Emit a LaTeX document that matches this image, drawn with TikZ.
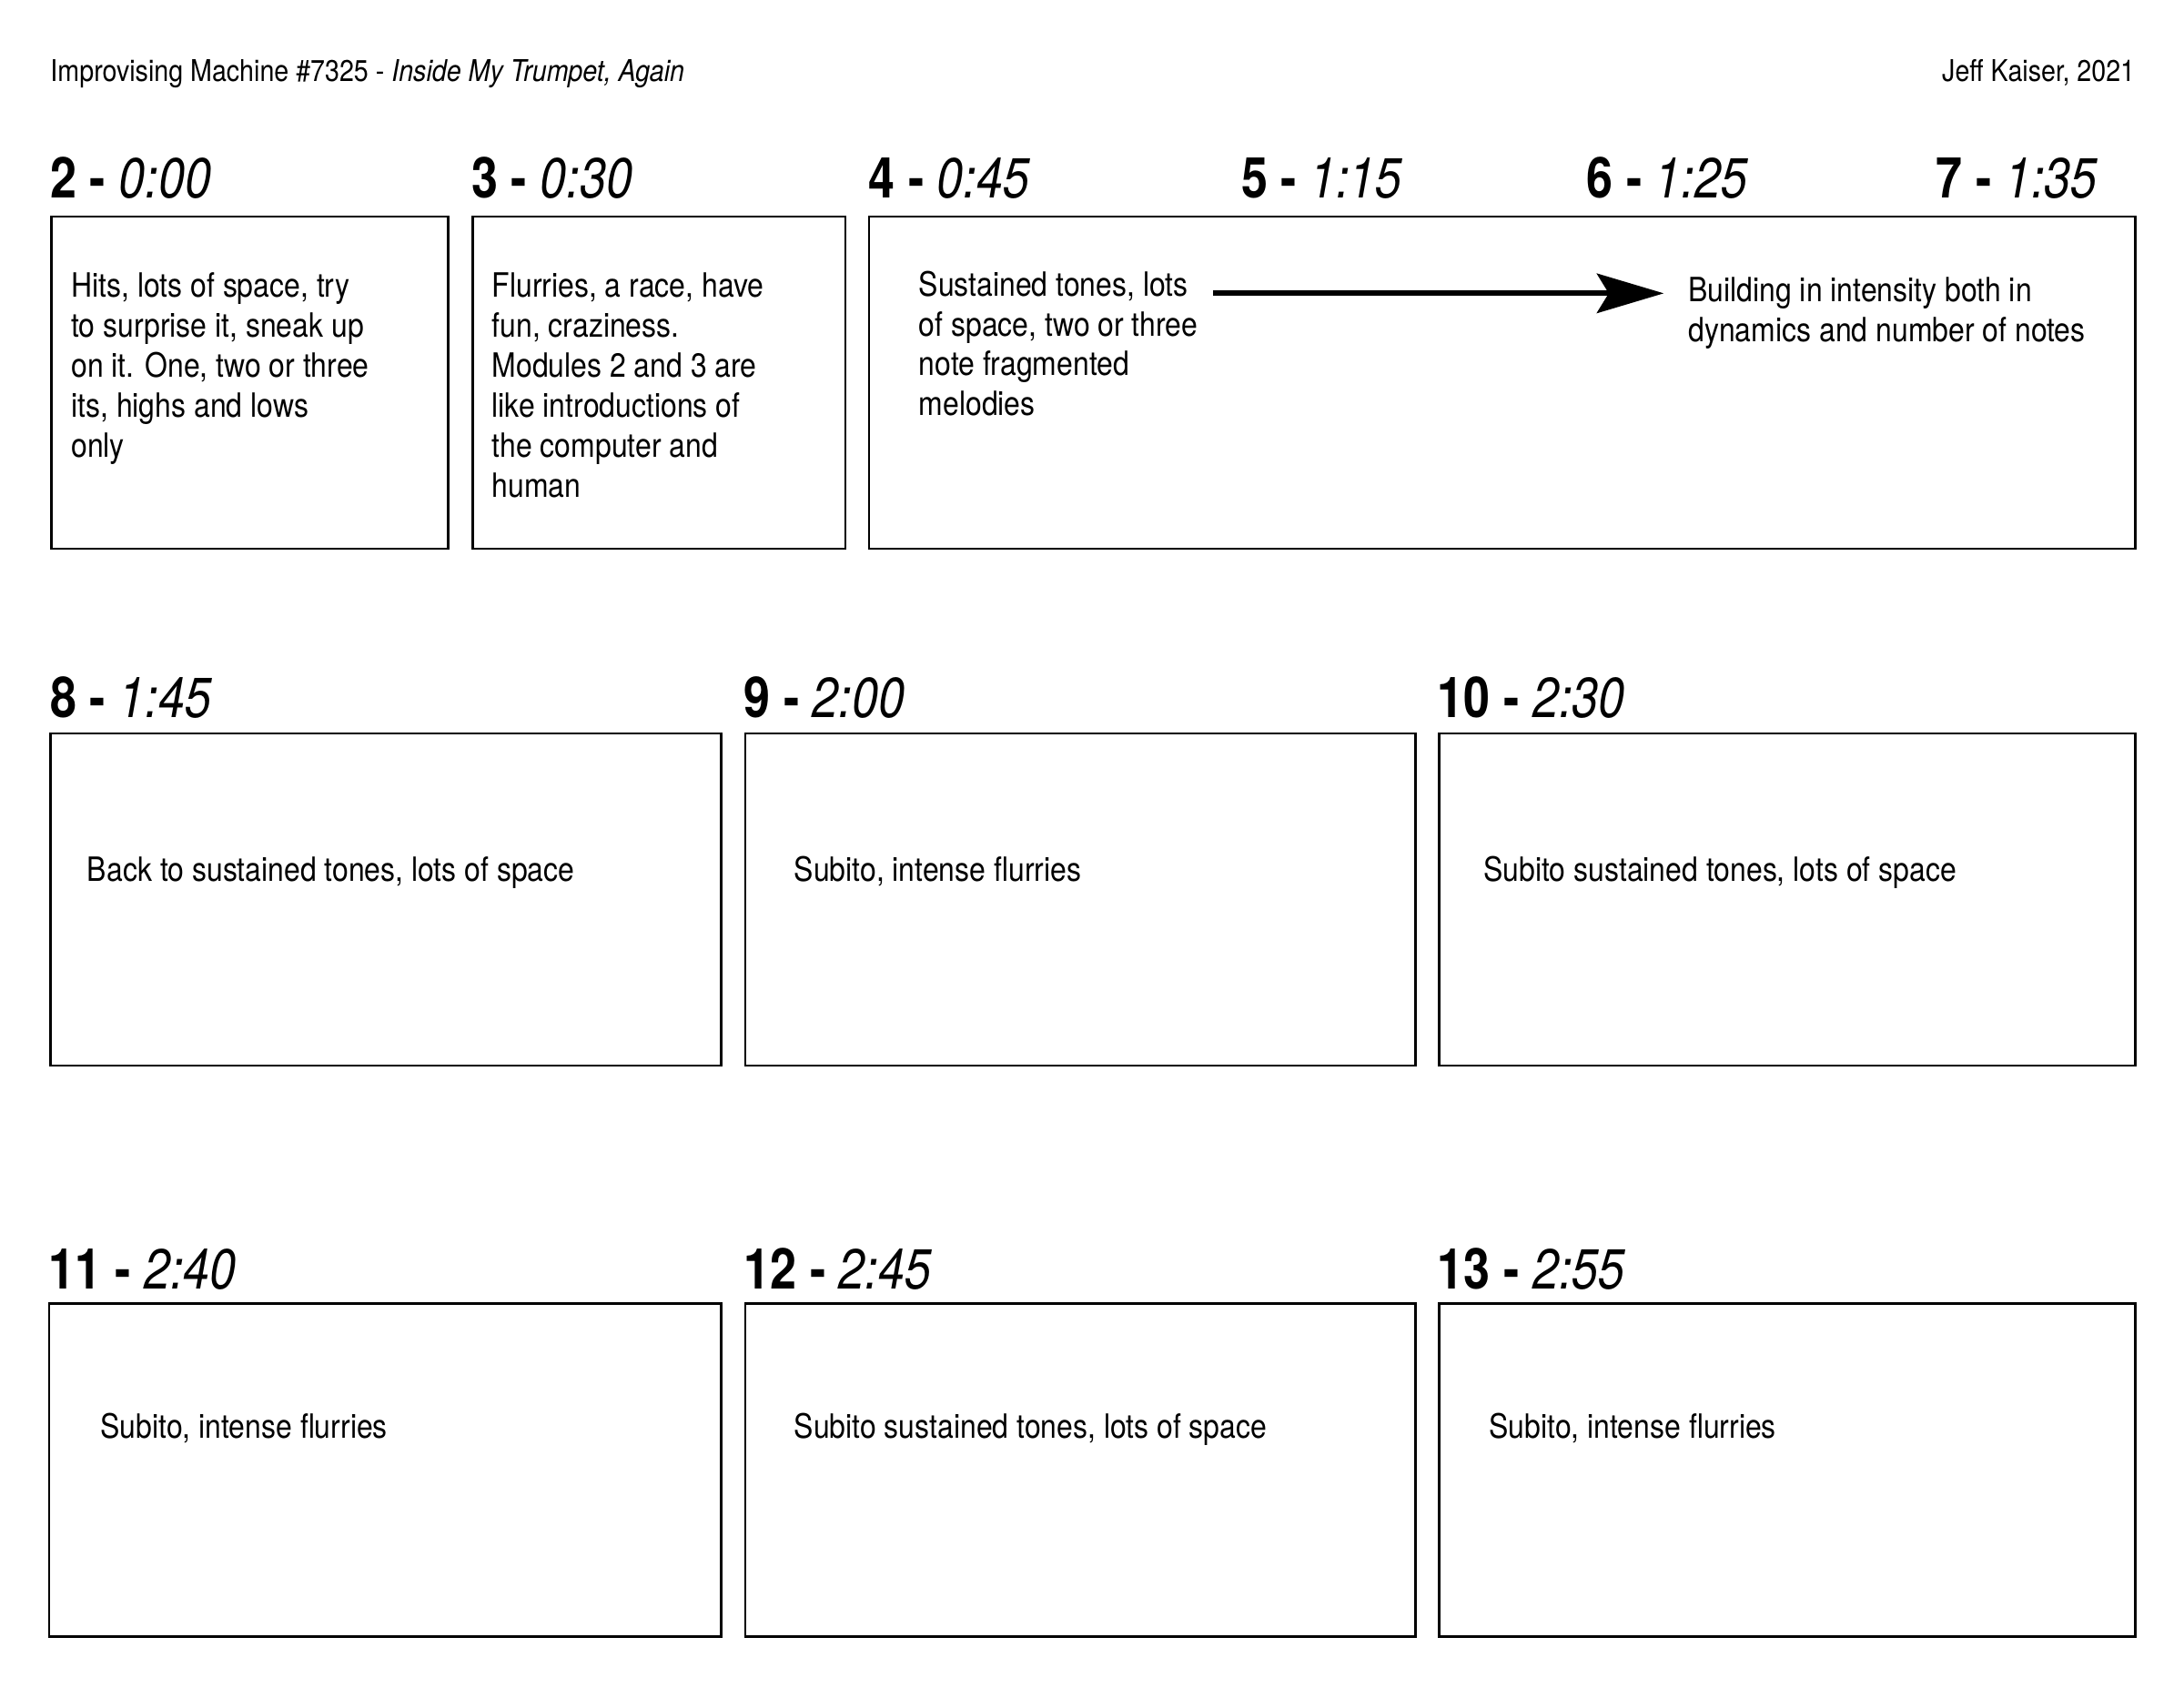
\documentclass[tikz,border=0pt]{standalone}
\usepackage{fontspec}
\setmainfont{TeX Gyre Heros}[FakeStretch=0.87]
\newfontfamily\titlefont{TeX Gyre Heros}[FakeStretch=0.87]
\newfontfamily\modfont{TeX Gyre Heros}[FakeStretch=0.84]
\usetikzlibrary{arrows.meta}

\begin{document}
\begin{tikzpicture}[x=1pt,y=-1pt,
		box/.style={draw=black, line width=1.8pt},
		note/.style={anchor=base west, inner sep=0pt, align=left, font=\fontsize{24}{28.7}\selectfont},
		modhead/.style={anchor=base west, inner sep=0pt, font=\modfont\fontsize{40.5}{48}\selectfont},
		flow/.style={-{Stealth[length=48pt, width=28.3pt, inset=8.5pt]}, line width=3.9pt}]
	\useasboundingbox (0,0) rectangle (1568,1211.9);
	% title line
	\node[anchor=base west, inner sep=0pt, font=\titlefont\fontsize{21.5}{25}\selectfont] (title) at (36,58.4) {Improvising Machine \#7325 - \textit{Inside My Trumpet, Again}};
	\node[anchor=base east, inner sep=0pt, font=\titlefont\fontsize{21.5}{25}\selectfont] (author) at (1533,58.4) {Jeff Kaiser, 2021};
	% first row
	\node[modhead] (h2) at (36,142) {\textbf{2 -} \textit{0:00}};
	\node[modhead] (h3) at (338.5,142) {\textbf{3 -} \textit{0:30}};
	\node[modhead] (h4) at (623.5,142) {\textbf{4 -} \textit{0:45}};
	\node[modhead] (h5) at (891,142) {\textbf{5 -} \textit{1:15}};
	\node[modhead] (h6) at (1139,142) {\textbf{6 -} \textit{1:25}};
	\node[modhead] (h7) at (1390,142) {\textbf{7 -} \textit{1:35}};
	\draw[box] (36.8,155.5) rectangle (321.7,394);
	\draw[box] (339.5,155.5) rectangle (607,394);
	\draw[box] (624,155.5) rectangle (1533,394);
	% base of a multi-line note is its last line
	\node[note] (t2) at (51,328.2) {Hits, lots of space, try\\to surprise it, sneak up\\on it. One, two or three\\its, highs and lows\\only};
	\node[note] (t3) at (353,356.9) {Flurries, a race, have\\fun, craziness.\\Modules 2 and 3 are\\like introductions of\\the computer and\\human};
	\node[note] (t4) at (659.5,298.5) {Sustained tones, lots\\of space, two or three\\note fragmented\\melodies};
	\node[note] (t7) at (1212,245) {Building in intensity both in\\dynamics and number of notes};
	\draw[flow] ([xshift=11pt,yshift=87.9pt]t4.base east) -- ([xshift=-17.5pt,yshift=34.4pt]t7.base west);
	% second row
	\node[modhead] (h8) at (36,515) {\textbf{8 -} \textit{1:45}};
	\node[modhead] (h9) at (534,515) {\textbf{9 -} \textit{2:00}};
	\node[modhead] (h10) at (1032,515) {\textbf{10 -} \textit{2:30}};
	\draw[box] (36.5,526.6) rectangle (518,765);
	\draw[box] (535,526.6) rectangle (1016,765);
	\draw[box] (1033,526.6) rectangle (1533,765);
	\node[note] (t8) at (62.5,632.6) {Back to sustained tones, lots of space};
	\node[note] (t9) at (570,632.6) {Subito, intense flurries};
	\node[note] (t10) at (1065,632.6) {Subito sustained tones, lots of space};
	% third row
	\node[modhead] (h11) at (35,925.6) {\textbf{11 -} \textit{2:40}};
	\node[modhead] (h12) at (534,925.6) {\textbf{12 -} \textit{2:45}};
	\node[modhead] (h13) at (1032,925.6) {\textbf{13 -} \textit{2:55}};
	\draw[box] (35.2,936) rectangle (518,1175);
	\draw[box] (535,936) rectangle (1016,1175);
	\draw[box] (1033,936) rectangle (1533,1175);
	\node[note] (t11) at (72,1032.3) {Subito, intense flurries};
	\node[note] (t12) at (570,1032.3) {Subito sustained tones, lots of space};
	\node[note] (t13) at (1069,1032.3) {Subito, intense flurries};
\end{tikzpicture}
\end{document}
